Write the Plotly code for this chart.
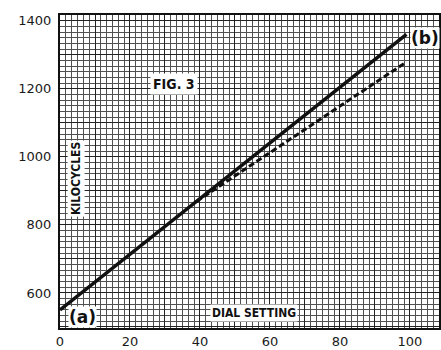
import plotly.graph_objects as go

# Data
solid_x = [0, 99]
solid_y = [550, 1360]
dashed_x = [39, 99]
dashed_y = [869, 1279]

x_tickvals = [0, 10, 20, 30, 40, 50, 60, 70, 80, 90, 100, 110]
x_ticktext = ["0", "", "20", "", "40", "", "60", "", "80", "", "100", ""]
y_tickvals = [500, 600, 700, 800, 900, 1000, 1100, 1200, 1300, 1400]
y_ticktext = ["", "600", "", "800", "", "1000", "", "1200", "", "1400"]

fig = go.Figure()
fig.add_trace(go.Scatter(x=solid_x, y=solid_y, mode="lines",
                         line=dict(color="#111111", width=3.5), showlegend=False))
fig.add_trace(go.Scatter(x=dashed_x, y=dashed_y, mode="lines",
                         line=dict(color="#111111", width=3, dash="6px,3px"), showlegend=False))

tickfont = dict(family="DejaVu Sans", size=13, color="#1a1a1a")
fig.update_layout(
    width=441, height=350,
    margin=dict(l=60, r=0, t=15, b=22),
    paper_bgcolor="white", plot_bgcolor="white",
    xaxis=dict(range=[0, 108.3], tickmode="array", tickvals=x_tickvals, ticktext=x_ticktext,
               showgrid=True, gridcolor="#222222", gridwidth=1.2, zeroline=False,
               showline=True, mirror=True, linecolor="#111111", linewidth=2,
               ticks="", tickfont=tickfont,
               minor=dict(tick0=0, dtick=10/6, showgrid=True, gridcolor="#505050", gridwidth=0.8)),
    yaxis=dict(range=[497, 1417], tickmode="array", tickvals=y_tickvals, ticktext=y_ticktext,
               showgrid=True, gridcolor="#222222", gridwidth=1.2, zeroline=False,
               showline=True, mirror=True, linecolor="#111111", linewidth=2,
               ticks="", tickfont=tickfont, ticklabelstandoff=4,
               minor=dict(tick0=500, dtick=100/6, showgrid=True, gridcolor="#505050", gridwidth=0.8)),
)

labfont = dict(family="DejaVu Sans Condensed", size=12, color="#111111")
fig.add_annotation(x=32.6, y=1214, text="<b>FIG. 3</b>", showarrow=False,
                   font=dict(family="DejaVu Sans Condensed", size=14, color="#111111"),
                   bgcolor="white", borderpad=2)
fig.add_annotation(x=4.6, y=935, text="<b>KILOCYCLES</b>", showarrow=False, textangle=-90,
                   font=labfont, bgcolor="white", borderpad=1)
fig.add_annotation(x=55.3, y=541, text="<b>DIAL SETTING</b>", showarrow=False,
                   font=labfont, bgcolor="white", borderpad=1)
fig.add_annotation(x=6.4, y=529, text="<b>(a)</b>", showarrow=False,
                   font=dict(family="DejaVu Sans", size=17, color="#111111"),
                   bgcolor="white", borderpad=0)
fig.add_annotation(x=104.4, y=1349, text="<b>(b)</b>", showarrow=False,
                   font=dict(family="DejaVu Sans", size=17, color="#111111"),
                   bgcolor="white", borderpad=0)

fig.write_html("out.html", config={"displayModeBar": False},
               post_script="document.body.style.margin='0';document.body.style.overflow='hidden';")
